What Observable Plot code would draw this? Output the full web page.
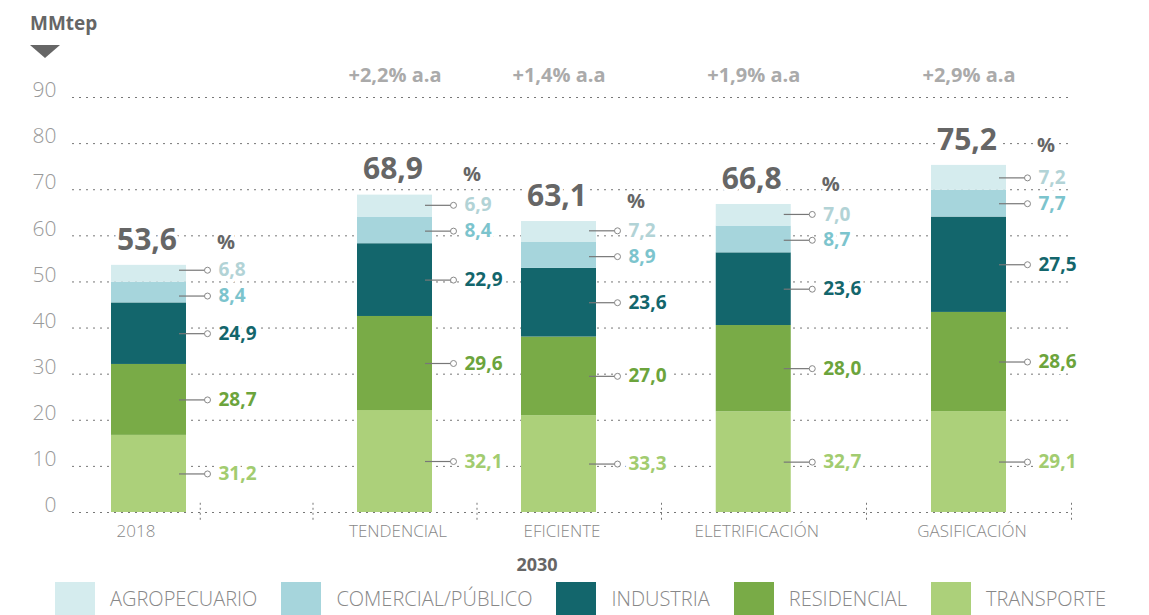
<!DOCTYPE html>
<html>
<head>
<meta charset="utf-8">
<script src="https://cdn.jsdelivr.net/npm/d3@7"></script>
<script src="https://cdn.jsdelivr.net/npm/@observablehq/plot@0.6"></script>
<style>
  body { margin: 0; background: #fff; font-family: "Open Sans", sans-serif; }
  #wrap { position: relative; width: 1149px; height: 615px; overflow: hidden; }
  #chart { position: absolute; left: 0; top: 0; }
  #unit { position: absolute; left: 30px; top: 10px; font-weight: 700; font-size: 19px; color: #666; }
  #tri { position: absolute; left: 30px; top: 45px; width: 0; height: 0;
         border-left: 15px solid transparent; border-right: 15px solid transparent; border-top: 13px solid #666; }
  #legend { position: absolute; left: 55px; top: 582px; display: flex; align-items: flex-start; }
  .item { display: flex; align-items: flex-start; margin-right: 24px; }
  .sw { width: 40px; height: 40px; margin-right: 15px; }
  .lb { font-size: 20px; font-weight: 300; color: #888; line-height: 20px; margin-top: 7px; white-space: nowrap; }
</style>
</head>
<body>
<div id="wrap">
  <div id="chart"></div>
  <div id="unit">MMtep</div>
  <div id="tri"></div>
  <div id="legend"></div>
</div>
<script>
// ---- data ----
const scenarios = ["2018", "TENDENCIAL", "EFICIENTE", "ELETRIFICACIÓN", "GASIFICACIÓN"];
const totals = [53.6, 68.9, 63.1, 66.8, 75.2];
const growthLabels = ["", "+2,2% a.a", "+1,4% a.a", "+1,9% a.a", "+2,9% a.a"];
const groupLabel = "2030";
const sectors = ["AGROPECUARIO", "COMERCIAL/PÚBLICO", "INDUSTRIA", "RESIDENCIAL", "TRANSPORTE"];
const shareAgro = [6.8, 6.9, 7.2, 7.0, 7.2];
const shareComercial = [8.4, 8.4, 8.9, 8.7, 7.7];
const shareIndustria = [24.9, 22.9, 23.6, 23.6, 27.5];
const shareResidencial = [28.7, 29.6, 27.0, 28.0, 28.6];
const shareTransporte = [31.2, 32.1, 33.3, 32.7, 29.1];
const yTicks = [0, 10, 20, 30, 40, 50, 60, 70, 80, 90];

// ---- styles ----
const barColors = ["#d5ecee", "#a6d5dc", "#13666c", "#79ab47", "#acd07a"];
const labelColors = ["#b2d3d6", "#7cc4cd", "#13666c", "#6ca43c", "#a2cc70"];

const comma = v => d3.format(".1f")(v).replace(".", ",");
const shares = [shareAgro, shareComercial, shareIndustria, shareResidencial, shareTransporte];

// stacked rows (bottom-up); labels at segment middles, spread apart symmetrically when too close
const minGap = 5.6; // in y units
const rows = [];
const topLabel = [];
scenarios.forEach((s, i) => {
  let base = 0;
  const group = [];
  for (let k = sectors.length - 1; k >= 0; k--) {
    const v = totals[i] * shares[k][i] / 100;
    group.push({scenario: s, sector: sectors[k], k, y1: base, y2: base + v, ly: base + v / 2, pct: shares[k][i]});
    base += v;
  }
  for (let j = 1; j < group.length; j++) {
    const gap = group[j].ly - group[j - 1].ly;
    if (gap < minGap) {
      const d = (minGap - gap) / 2;
      group[j - 1].ly -= d;
      group[j].ly += d;
    }
  }
  rows.push(...group);
  topLabel.push(group[group.length - 1].ly);
});
const totalRows = scenarios.map((s, i) => ({
  scenario: s, total: totals[i], pctY: Math.max(totals[i] + 4.3, topLabel[i] + 6)
}));
const growthRows = scenarios.map((s, i) => ({scenario: s, g: growthLabels[i]})).filter(d => d.g);

// ---- layout: fine band grid so the uneven bar spacing can be reproduced ----
const slotCount = 91;
const slotOf = {"2018": 0, "TENDENCIAL": 24, "EFICIENTE": 40, "ELETRIFICACIÓN": 59, "GASIFICACIÓN": 80};
const domain = d3.range(slotCount).map(i => "·" + i);
scenarios.forEach(s => { domain[slotOf[s]] = s; });
const sepSlots = [5, 16, 32, 50, 70, 90].map(i => domain[i]);

const halo = {stroke: "white", strokeWidth: 7, paintOrder: "stroke"};
const catStyle = {y: 0, lineAnchor: "middle", dy: 19, fontSize: 17, fontWeight: 300, fill: "#888"};

const chart = Plot.plot({
  width: 1149, height: 575,
  marginLeft: 72, marginRight: 77, marginTop: 97, marginBottom: 63,
  style: {fontFamily: '"Open Sans", sans-serif', background: "transparent", overflow: "visible"},
  x: {type: "band", domain, padding: 0, round: false, insetLeft: 71.375, insetRight: -4.125, axis: null},
  y: {domain: [0, 90], axis: null},
  color: {domain: sectors, range: barColors},
  marks: [
    Plot.ruleY(yTicks.filter(d => d > 0), {stroke: "#777", strokeDasharray: "2,5"}),
    Plot.text(yTicks, {y: d => d, frameAnchor: "left", lineAnchor: "middle", dx: -16, dy: -7, textAnchor: "end",
      fontSize: 21, fontWeight: 300, fill: "#999"}),
    Plot.barY(rows, {x: "scenario", y1: "y1", y2: "y2", fill: "sector", insetLeft: -32.375, insetRight: -32.375}),
    Plot.ruleY([0], {stroke: "#777", strokeDasharray: "2,5"}),
    Plot.ruleX(sepSlots, {x: d => d, y1: 2, y2: -2.3, stroke: "#777", strokeDasharray: "2,3"}),
    // percent labels with halos and leaders
    ...sectors.map((s, k) => Plot.text(rows.filter(r => r.k === k), {
      x: "scenario", y: "ly", text: d => comma(d.pct), dx: 69.5, textAnchor: "start",
      fontSize: 19, fontWeight: 700, fill: labelColors[k], ...halo})),
    Plot.tickY(rows, {x: "scenario", y: "ly", stroke: "#777", strokeWidth: 1.2, insetLeft: 35.625, insetRight: -53.375}),
    Plot.dot(rows, {x: "scenario", y: "ly", r: 3, fill: "white", stroke: "#888", strokeWidth: 1, dx: 58.5}),
    // totals
    Plot.text(totalRows, {x: "scenario", y: "total", text: d => comma(d.total), dy: -25, dx: -2,
      fontSize: 30, fontWeight: 700, fill: "#666", ...halo}),
    Plot.text(totalRows, {x: "scenario", y: "pctY", text: () => "%", dx: 68, textAnchor: "start",
      fontSize: 20, fontWeight: 700, fill: "#666", ...halo}),
    // growth rates
    Plot.text(growthRows, {x: "scenario", text: "g", frameAnchor: "top", lineAnchor: "middle", dy: -22,
      fontSize: 20, fontWeight: 700, fill: "#aaa"}),
    // category labels
    Plot.text(scenarios.slice(0, 1), {x: d => d, dx: -13, ...catStyle}),
    Plot.text(scenarios.slice(1), {x: d => d, dx: 3, ...catStyle}),
    Plot.text([groupLabel], {x: () => "EFICIENTE", frameAnchor: "bottom", lineAnchor: "middle", dx: -22, dy: 53,
      fontSize: 18, fontWeight: 700, fill: "#666"})
  ]
});
document.getElementById("chart").appendChild(chart);

// legend
const legend = document.getElementById("legend");
sectors.forEach((s, k) => {
  const it = document.createElement("div");
  it.className = "item";
  it.innerHTML = `<div class="sw" style="background:${barColors[k]}"></div><div class="lb">${s}</div>`;
  legend.appendChild(it);
});
</script>
</body>
</html>
